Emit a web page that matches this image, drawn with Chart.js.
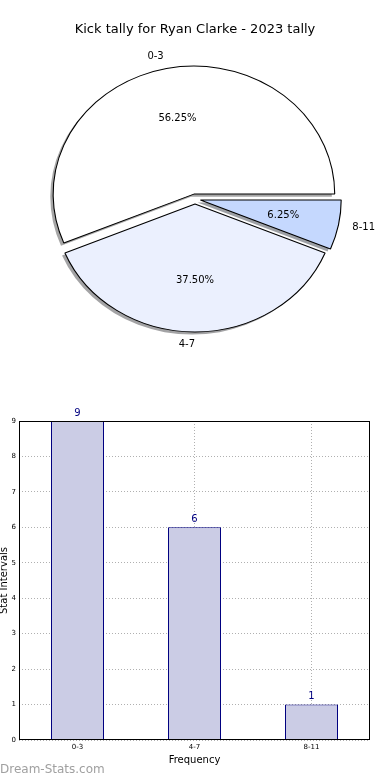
<!DOCTYPE html>
<html>
<head>
<meta charset="utf-8">
<script src="https://cdn.jsdelivr.net/npm/chart.js@4.4.1/dist/chart.umd.min.js"></script>
<style>
  html, body { margin: 0; padding: 0; background: #fff; }
  body { width: 390px; height: 780px; position: relative; overflow: hidden; }
  #pie { position: absolute; left: 0; top: 0; }
  #bar { position: absolute; left: 0; top: 380px; }
  #mark { position: absolute; left: 0; top: 762px; font: 12px "DejaVu Sans", sans-serif; color: #a0a0a0; }
</style>
</head>
<body>
<canvas id="pie" width="390" height="370"></canvas>
<canvas id="bar" width="390" height="400"></canvas>
<div id="mark">Dream-Stats.com</div>
<script>
// data
const categories = ['0-3', '4-7', '8-11'];
const tallies = [9, 6, 1];
const yMax = 9;

const sliceColors = ['#ffffff', '#ebf0fe', '#c5d8fe'];
const ELLIPSE = 1.1;   // pie is stretched sideways in the original
const EXPLODE = 5;     // px each wedge is pulled out
const SHADOW = 2.6;    // shadow shift, left and down

Chart.defaults.font.family = 'DejaVu Sans';
Chart.defaults.color = '#000';

// original goes counter-clockwise from 3 o'clock; Chart.js goes clockwise, so reverse
const pieLabels = categories.slice().reverse();
const pieValues = tallies.slice().reverse();
const pieColors = sliceColors.slice().reverse();
const total = tallies.reduce((a, b) => a + b, 0);

function shadowOf(hex) {
  const n = parseInt(hex.slice(1), 16);
  const r = Math.round(((n >> 16) & 255) * 0.3);
  const g = Math.round(((n >> 8) & 255) * 0.3);
  const b = Math.round((n & 255) * 0.3);
  return `rgba(${r},${g},${b},0.5)`;
}

const ellipsePlugin = {
  id: 'ellipse',
  beforeDatasetsDraw(chart) {
    const arcs = chart.getDatasetMeta(0).data;
    const ctx = chart.ctx;
    const x0 = arcs[0].x, y0 = arcs[0].y;
    ctx.save();
    ctx.translate(x0, y0);
    ctx.scale(ELLIPSE, 1);
    ctx.translate(-x0, -y0);
    // shadows under every wedge
    arcs.forEach((arc, i) => {
      const mid = (arc.startAngle + arc.endAngle) / 2;
      ctx.save();
      ctx.translate(Math.cos(mid) * EXPLODE - SHADOW, Math.sin(mid) * EXPLODE + SHADOW);
      ctx.beginPath();
      ctx.moveTo(arc.x, arc.y);
      ctx.arc(arc.x, arc.y, arc.outerRadius, arc.startAngle, arc.endAngle);
      ctx.closePath();
      ctx.fillStyle = shadowOf(pieColors[i]);
      ctx.fill();
      ctx.restore();
    });
    // wedges, each pulled out along its middle
    arcs.forEach((arc) => {
      const mid = (arc.startAngle + arc.endAngle) / 2;
      ctx.save();
      ctx.translate(Math.cos(mid) * EXPLODE, Math.sin(mid) * EXPLODE);
      arc.draw(ctx);
      ctx.restore();
    });
    ctx.restore();
    return false;
  },
  afterDraw(chart) {
    const ctx = chart.ctx;
    const meta = chart.getDatasetMeta(0);
    ctx.save();
    ctx.fillStyle = '#000';
    ctx.textBaseline = 'middle';
    ctx.font = '10px "DejaVu Sans"';
    meta.data.forEach((arc, i) => {
      const mid = (arc.startAngle + arc.endAngle) / 2;
      const R = arc.outerRadius;
      const c = Math.cos(mid), s = Math.sin(mid);
      const cx = arc.x + c * EXPLODE * ELLIPSE;
      const cy = arc.y + s * EXPLODE;
      ctx.textAlign = 'center';
      const pct = (pieValues[i] / total * 100).toFixed(2) + '%';
      ctx.fillText(pct, cx + c * 0.6 * R * ELLIPSE, cy + s * 0.6 * R);
      ctx.textAlign = c > 1e-6 ? 'left' : 'right';
      ctx.fillText(pieLabels[i], cx + c * 1.1 * R * ELLIPSE, cy + s * 1.1 * R);
    });
    ctx.restore();
  }
};

new Chart(document.getElementById('pie'), {
  type: 'pie',
  data: {
    labels: pieLabels,
    datasets: [{
      data: pieValues,
      backgroundColor: pieColors,
      borderColor: '#000',
      borderWidth: 1,
      offset: 0
    }]
  },
  options: {
    responsive: false,
    animation: false,
    rotation: 90,
    radius: 128,
    layout: { padding: { top: 0, bottom: 9.6, left: 0, right: 0 } },
    plugins: {
      legend: { display: false },
      tooltip: { enabled: false },
      title: {
        display: true,
        text: 'Kick tally for Ryan Clarke - 2023 tally',
        color: '#000',
        font: { size: 13, weight: 'normal' },
        padding: { top: 22, bottom: 0 }
      }
    }
  },
  plugins: [ellipsePlugin]
});

const barExtras = {
  id: 'barExtras',
  afterDatasetsDraw(chart) {
    const ctx = chart.ctx;
    ctx.save();
    ctx.fillStyle = '#000080';
    ctx.font = '10px "DejaVu Sans"';
    ctx.textAlign = 'center';
    ctx.textBaseline = 'bottom';
    chart.getDatasetMeta(0).data.forEach((bar, i) => {
      ctx.fillText(String(tallies[i]), bar.x, bar.y - 3);
    });
    ctx.restore();
  },
  afterDraw(chart) {
    const a = chart.chartArea;
    const ctx = chart.ctx;
    ctx.save();
    ctx.strokeStyle = '#000';
    ctx.lineWidth = 1;
    ctx.strokeRect(Math.round(a.left) + 0.5, Math.round(a.top) + 0.5,
      Math.round(a.right - a.left) - 1, Math.round(a.bottom - a.top) - 1);
    ctx.restore();
  }
};

new Chart(document.getElementById('bar'), {
  type: 'bar',
  data: {
    labels: categories,
    datasets: [{
      data: tallies,
      backgroundColor: '#cbcce5',
      borderColor: '#000080',
      borderWidth: 1,
      barPercentage: 0.453,
      categoryPercentage: 1
    }]
  },
  options: {
    responsive: false,
    animation: false,
    layout: { padding: { top: 41, right: 20, left: 0, bottom: 0 } },
    plugins: { legend: { display: false }, tooltip: { enabled: false } },
    scales: {
      x: {
        afterFit(scale) { scale.height = 40; },
        grid: { offset: false, color: '#b0b0b0', drawTicks: false },
        border: { display: false, dash: [1, 2] },
        ticks: { font: { size: 7 }, padding: 3, color: '#000' },
        title: {
          display: true, text: 'Frequency', color: '#000',
          font: { size: 10 }, padding: { top: 0, bottom: 14 }
        }
      },
      y: {
        min: 0,
        max: yMax,
        afterFit(scale) { scale.width = 19; },
        grid: { color: '#b0b0b0', drawTicks: false },
        border: { display: false, dash: [1, 2] },
        ticks: { stepSize: 1, font: { size: 7 }, padding: 3, color: '#000' },
        title: {
          display: true, text: 'Stat Intervals', color: '#000',
          font: { size: 10 }, padding: { top: -2, bottom: 0 }
        }
      }
    }
  },
  plugins: [barExtras]
});
</script>
</body>
</html>
